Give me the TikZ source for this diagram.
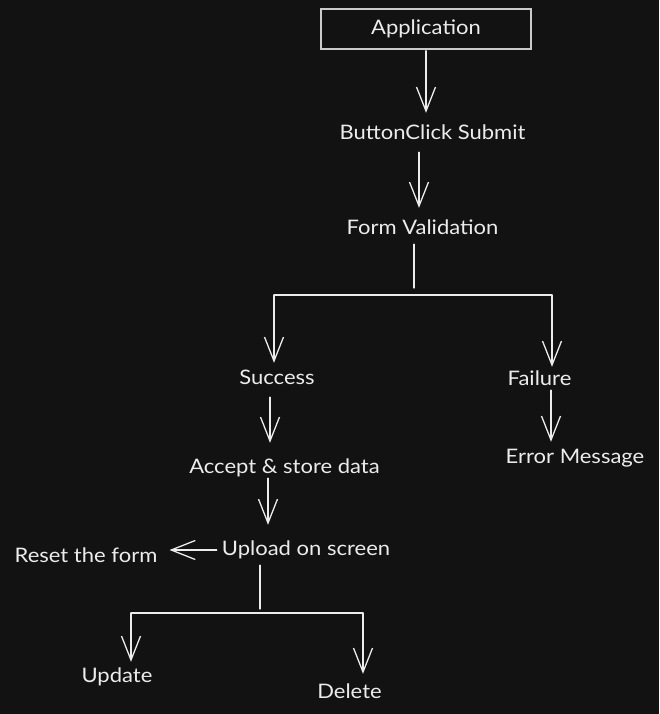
\documentclass[tikz,border=0pt]{standalone}
\usepackage{fontspec}
\setmainfont{Lato}[FakeStretch=1.1]
\usetikzlibrary{arrows.meta}
\definecolor{bg}{HTML}{121212}
\definecolor{fg}{HTML}{ECECEC}
\tikzset{
  txt/.style={text=fg, font=\fontsize{20}{24}\selectfont, inner sep=0pt, anchor=base, text height=15pt, text depth=5pt},
  ln/.style={draw=fg, line width=1.3pt, line cap=round},
  arr/.style={ln, -{Straight Barb[length=24pt,width=19pt,line width=1.3pt]}},
  boxed/.style={draw=fg!85!bg, line width=1.6pt, minimum width=210pt, minimum height=40pt, text=fg, font=\fontsize{20}{24}\selectfont, inner sep=0pt}
}
\begin{document}
\begin{tikzpicture}[x=1pt,y=-1pt]
\fill[bg] (0,0) rectangle (659,714);
\useasboundingbox (0,0) rectangle (659,714);

\node[boxed] (app) at (426,29) {Application};
\node[txt] (bcs) at (432.5,140) {ButtonClick Submit};
\node[txt] (fv) at (422.5,234) {Form Validation};
\node[txt] (succ) at (277,384) {Success};
\node[txt] (fail) at (539.5,385) {Failure};
\node[txt] (asd) at (284.5,473) {Accept \& store data};
\node[txt] (err) at (575,463) {Error Message};
\node[txt] (up) at (306,555) {Upload on screen};
\node[txt] (reset) at (86,562) {Reset the form};
\node[txt] (upd) at (117,682) {Update};
\node[txt] (del) at (349.5,698) {Delete};

\coordinate (j1) at (414,295);
\coordinate (b1L) at (274,295);
\coordinate (b1R) at (552,295);
\coordinate (j2) at (260,613);
\coordinate (b2L) at (131,613);
\coordinate (b2R) at (363,613);

% top chain
\draw[arr, shorten <=1pt, shorten >=12pt] (app.south) -- (app.south |- bcs.north);
\draw[arr, shorten <=7pt, shorten >=11pt] ([xshift=-3.5pt]fv.north |- bcs.south) -- ([xshift=-3.5pt]fv.north);
\draw[ln, shorten <=5pt, shorten >=7pt] (fv.south -| j1) -- (j1);

% first branch
\draw[ln] (b1L) -- (b1R);
\draw[arr, shorten >=6pt] (b1L) -- (b1L |- succ.north);
\draw[arr, shorten >=3pt] (b1R) -- (b1R |- fail.north);

% success path
\draw[arr, shorten <=8pt, shorten >=15pt] ([xshift=-7pt]succ.south) -- ([xshift=-7pt]succ.south |- asd.north);
\draw[arr, shorten >=6pt] ([xshift=11.5pt]fail.south) -- ([xshift=11.5pt]fail.south |- err.north);
\draw[arr, shorten >=15pt] ([xshift=-16.5pt]asd.south) -- ([xshift=-16.5pt]asd.south |- up.north);
\draw[arr, shorten <=5pt, shorten >=12pt] (up.west) -- (up.west -| reset.east);

% second branch
\draw[ln, shorten <=5pt, shorten >=4pt] (up.south -| j2) -- (j2);
\draw[ln] (b2L) -- (b2R);
\draw[arr, shorten >=5pt] (b2L) -- (b2L |- upd.north);
\draw[arr, shorten >=9pt] (b2R) -- (b2R |- del.north);
\end{tikzpicture}
\end{document}
